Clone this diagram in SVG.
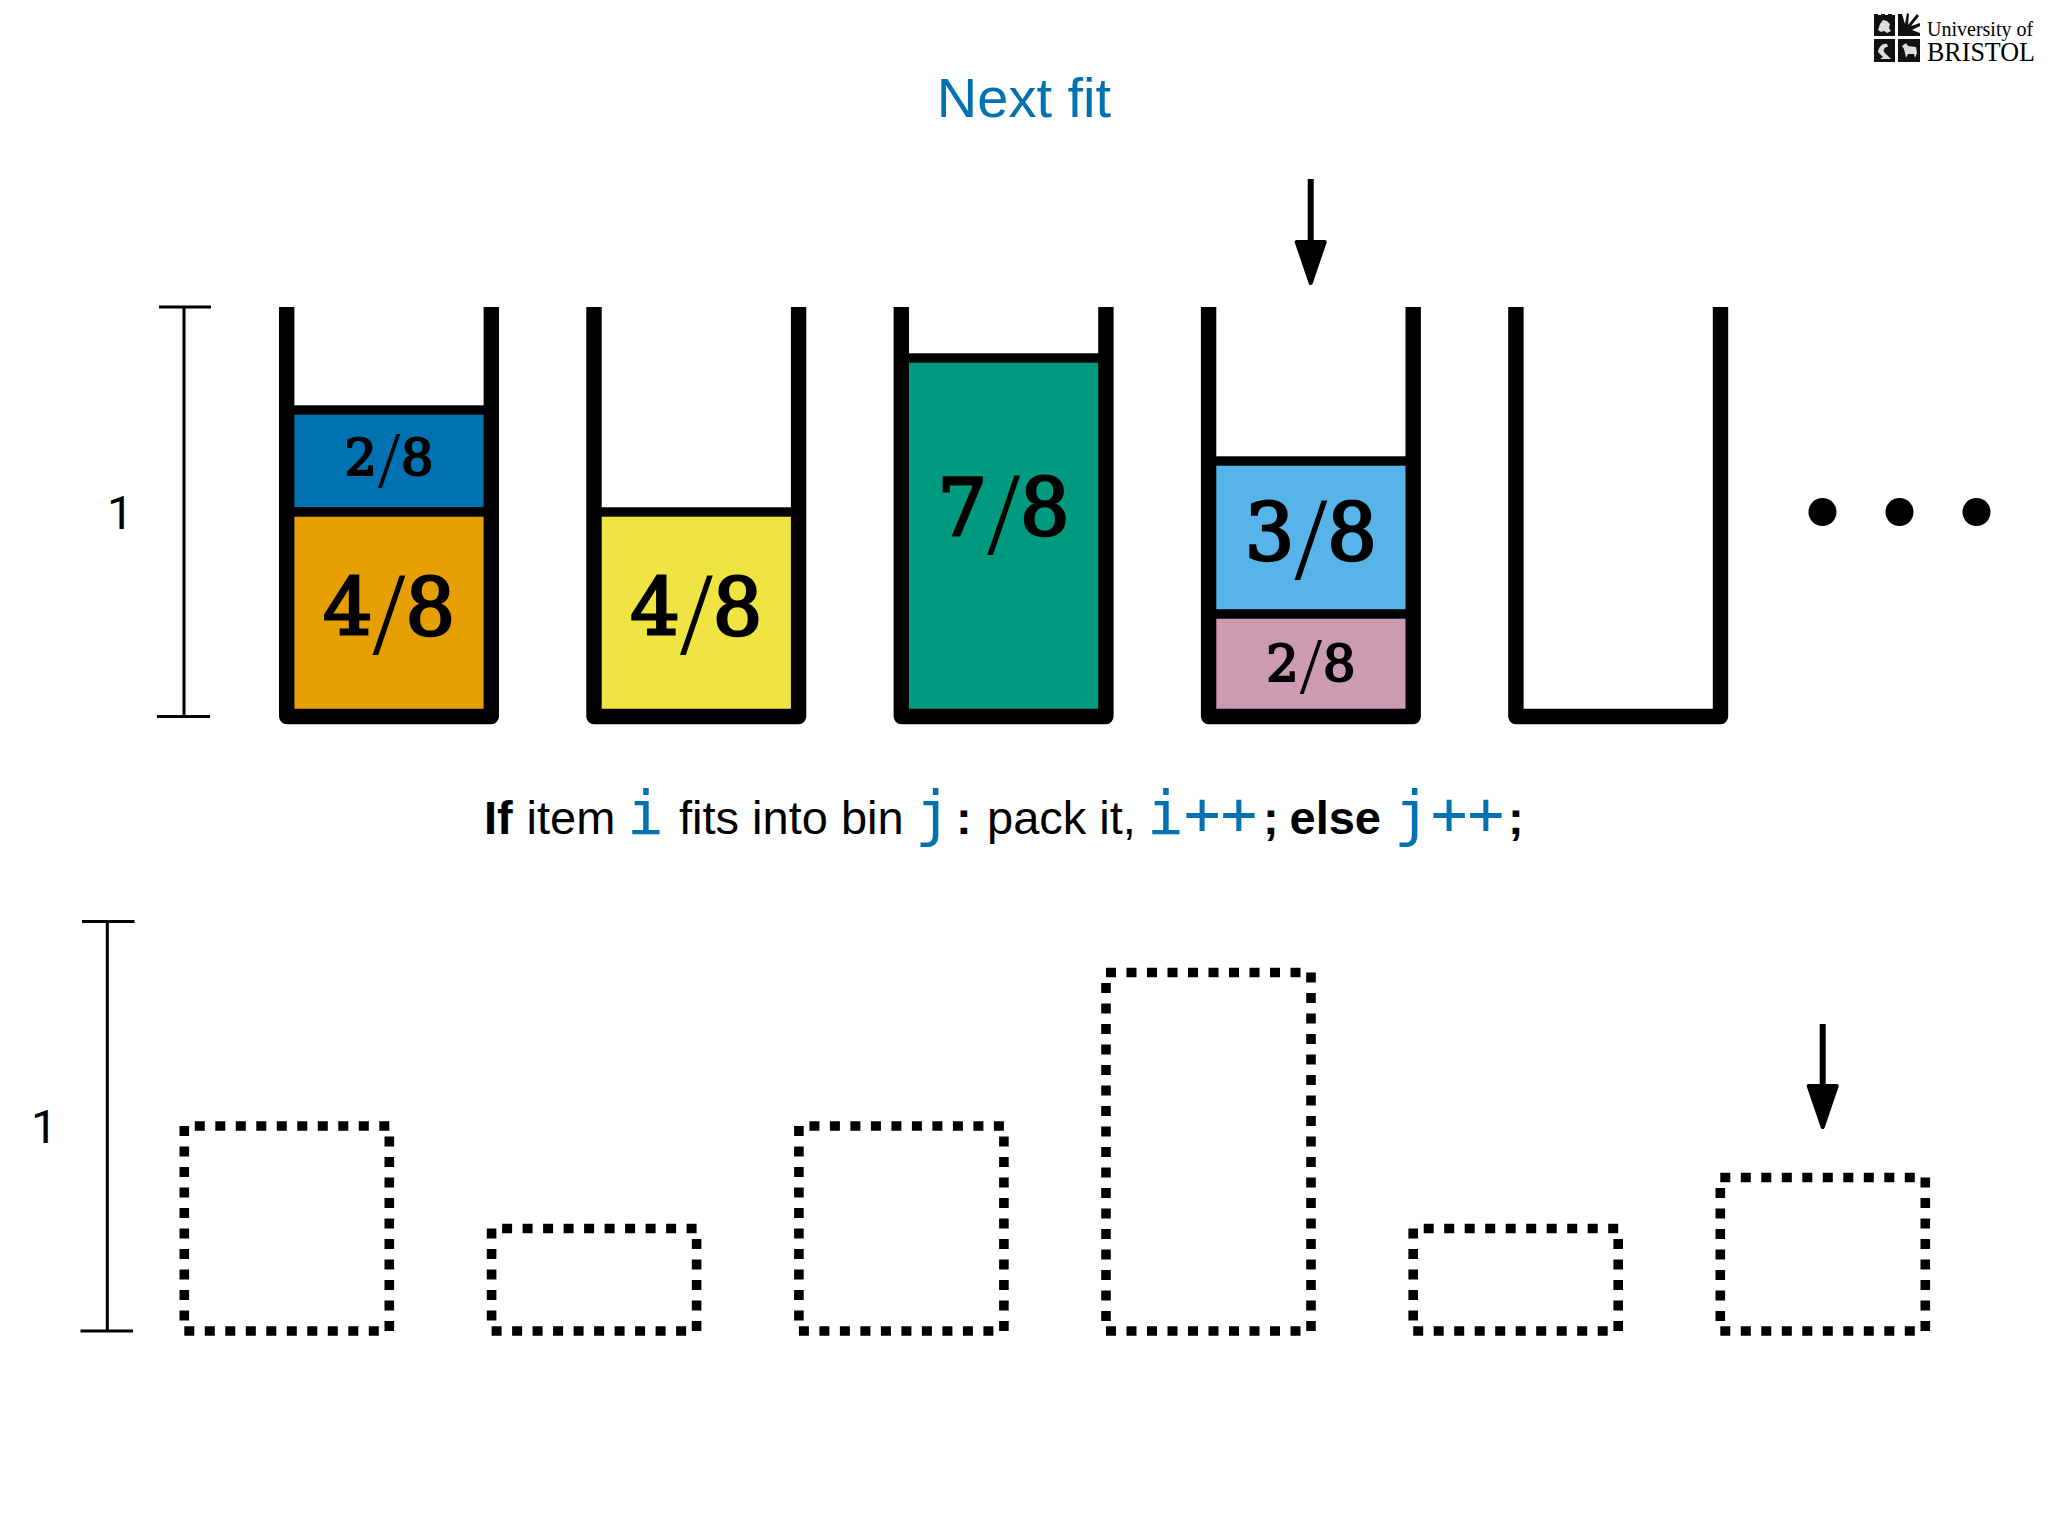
<svg xmlns="http://www.w3.org/2000/svg" width="2048" height="1536" viewBox="0 0 2048 1536">
<style>
text{font-family:"Liberation Sans",Arial,sans-serif;fill:#000}
.title{font-size:56px;fill:#0072B2;text-anchor:middle}
.t{font-size:47px}
.one{font-family:Roboto,"Liberation Sans",sans-serif;font-size:47px}
.b{font-weight:bold}
.m{font-family:"DejaVu Sans Mono",monospace;font-size:61px;fill:#0072B2}
.bin{fill:none;stroke:#000;stroke-width:15.4;stroke-linejoin:round}
.item{stroke:#000;stroke-width:9.4}
.bar{fill:none;stroke:#000;stroke-width:3}
.dash{fill:none;stroke:#000;stroke-width:9.6;stroke-dasharray:10 10.5}
.arrow{fill:none;stroke:#000;stroke-width:6;marker-end:url(#head)}
.frac{font-family:"DejaVu Serif",serif;text-anchor:middle}
.frac .d{stroke:#000}
.big{font-size:78px}
.big .d{stroke-width:2.8px}
.big .s{font-family:"Liberation Serif",serif;font-size:118px;stroke:none}
.small{font-size:51px}
.small .d{stroke-width:2.2px}
.small .s{font-family:"Liberation Serif",serif;font-size:80px;stroke:none}
.logo{font-family:"Liberation Serif",serif}
</style>
<defs>
<marker id="head" markerUnits="userSpaceOnUse" markerWidth="40" markerHeight="50" refX="0" refY="20" orient="auto" overflow="visible">
<path d="M-3,6 L38,20 L-3,34 Z" fill="#000" stroke="#000" stroke-width="4" stroke-linejoin="round"/>
</marker>
</defs>
<rect width="2048" height="1536" fill="#fff"/>
<text class="title" x="1024" y="117">Next fit</text>
<g id="logo">
<rect x="1874" y="15" width="21" height="21" fill="#111"/>
<path d="M1874,15v-1h4v1h3v-1h4v1h3v-1h4v1h3v3h-21z" fill="#111"/>
<path d="M1878,30l2,-6 3,-4 4,1 3,3 -1,4 2,3 -4,2 -3,-2 -3,1z" fill="#ddd"/>
<path d="M1898,36l0,-22 4,0 3,10 2,-11 2,1 -1,11 9,-11 2,2 -8,10 9,-3 0,3 -8,4 8,3 0,3z" fill="#111"/>
<rect x="1874" y="39" width="21" height="23" fill="#111"/>
<path d="M1878,52c1,-6 5,-9 9,-8l1,3c-3,0 -5,2 -4,5l5,5 2,2h-11l3,-2z" fill="#ddd"/>
<rect x="1898" y="39" width="22" height="23" fill="#111"/>
<path d="M1902,46l4,-3 2,3 8,1 1,6 -2,5 -1,-4 -6,0 -2,4 -1,-5 -1,-4z" fill="#ddd"/>
<text class="logo" x="1927" y="36" font-size="20" fill="#222">University of</text>
<text class="logo" x="1927" y="61" font-size="28" textLength="108" lengthAdjust="spacingAndGlyphs" fill="#222">BRISTOL</text>
</g>
<g id="scale-top">
<path class="bar" d="M184,307V716.5M159,307H211M157,716.5H210"/>
<text class="one" x="107" y="529">1</text>
</g>
<g id="bin-1">
<rect class="item" x="287" y="410" width="205" height="102" fill="#0072B2"/>
<rect class="item" x="287" y="512" width="205" height="204.5" fill="#E69F00"/>
<path class="bin" d="M286.7,307V716.5H491.3V307"/>
<text class="frac small" x="389" y="475"><tspan class="d">2</tspan><tspan class="s" dy="12" dx="1">/</tspan><tspan class="d" dy="-12" dx="1">8</tspan></text>
<text class="frac big" x="389" y="635"><tspan class="d">4</tspan><tspan class="s" dy="19">/</tspan><tspan class="d" dy="-19">8</tspan></text>
</g>
<g id="bin-2">
<rect class="item" x="594" y="512" width="205" height="204.5" fill="#F0E442"/>
<path class="bin" d="M594,307V716.5H798.6V307"/>
<text class="frac big" x="696.3" y="635"><tspan class="d">4</tspan><tspan class="s" dy="19">/</tspan><tspan class="d" dy="-19">8</tspan></text>
</g>
<g id="bin-3">
<rect class="item" x="901" y="358" width="205" height="358.5" fill="#009B7F"/>
<path class="bin" d="M901.3,307V716.5H1105.9V307"/>
<text class="frac big" x="1003.6" y="535"><tspan class="d">7</tspan><tspan class="s" dy="19">/</tspan><tspan class="d" dy="-19">8</tspan></text>
</g>
<g id="bin-4">
<rect class="item" x="1208" y="461" width="205" height="153.5" fill="#56B4E9"/>
<rect class="item" x="1208" y="614" width="205" height="102.5" fill="#CB9BB2"/>
<path class="bin" d="M1208.6,307V716.5H1413.2V307"/>
<text class="frac big" x="1310.9" y="560"><tspan class="d">3</tspan><tspan class="s" dy="19">/</tspan><tspan class="d" dy="-19">8</tspan></text>
<text class="frac small" x="1310.9" y="681"><tspan class="d">2</tspan><tspan class="s" dy="12" dx="1">/</tspan><tspan class="d" dy="-12" dx="1">8</tspan></text>
</g>
<g id="bin-5">
<path class="bin" d="M1515.9,307V716.5H1720.5V307"/>
</g>
<g id="ellipsis">
<circle cx="1822.5" cy="512" r="14"/>
<circle cx="1899.5" cy="512" r="14"/>
<circle cx="1976.5" cy="512" r="14"/>
</g>
<g id="rule">
<text class="t b" x="484" y="834">If</text>
<text class="t" x="526.5" y="834">item</text>
<text class="m" x="627" y="834">i</text>
<text class="t" x="679" y="834">fits into bin</text>
<text class="m" x="915" y="834">j</text>
<text class="t b" x="956" y="834">:</text>
<text class="t" x="987" y="834">pack it,</text>
<text class="m" x="1147" y="834">i++</text>
<text class="t b" x="1263" y="834">;</text>
<text class="t b" x="1289.5" y="834">else</text>
<text class="m" x="1394" y="834">j++</text>
<text class="t b" x="1508" y="834">;</text>
</g>
<g id="scale-bottom">
<path class="bar" d="M107.3,921.5V1331M82,921.5H134.5M80.5,1331H133"/>
<text class="one" x="31" y="1143">1</text>
</g>
<g id="item-a"><path class="dash" d="M184.3,1331H389.3V1126H184.3Z"/></g>
<g id="item-b"><path class="dash" d="M491.6,1331H696.6V1228.5H491.6Z"/></g>
<g id="item-c"><path class="dash" d="M798.9,1331H1003.9V1126H798.9Z"/></g>
<g id="item-d"><path class="dash" d="M1106,1331H1311V972.5H1106Z"/></g>
<g id="item-e"><path class="dash" d="M1413.2,1331H1618.2V1228.5H1413.2Z"/></g>
<g id="item-f"><path class="dash" d="M1720.3,1331H1925.3V1177.5H1720.3Z"/></g>
<g id="connectors">
<path class="arrow" d="M1310.7,179V245"/>
<path class="arrow" d="M1822.7,1024V1089"/>
</g>
</svg>
